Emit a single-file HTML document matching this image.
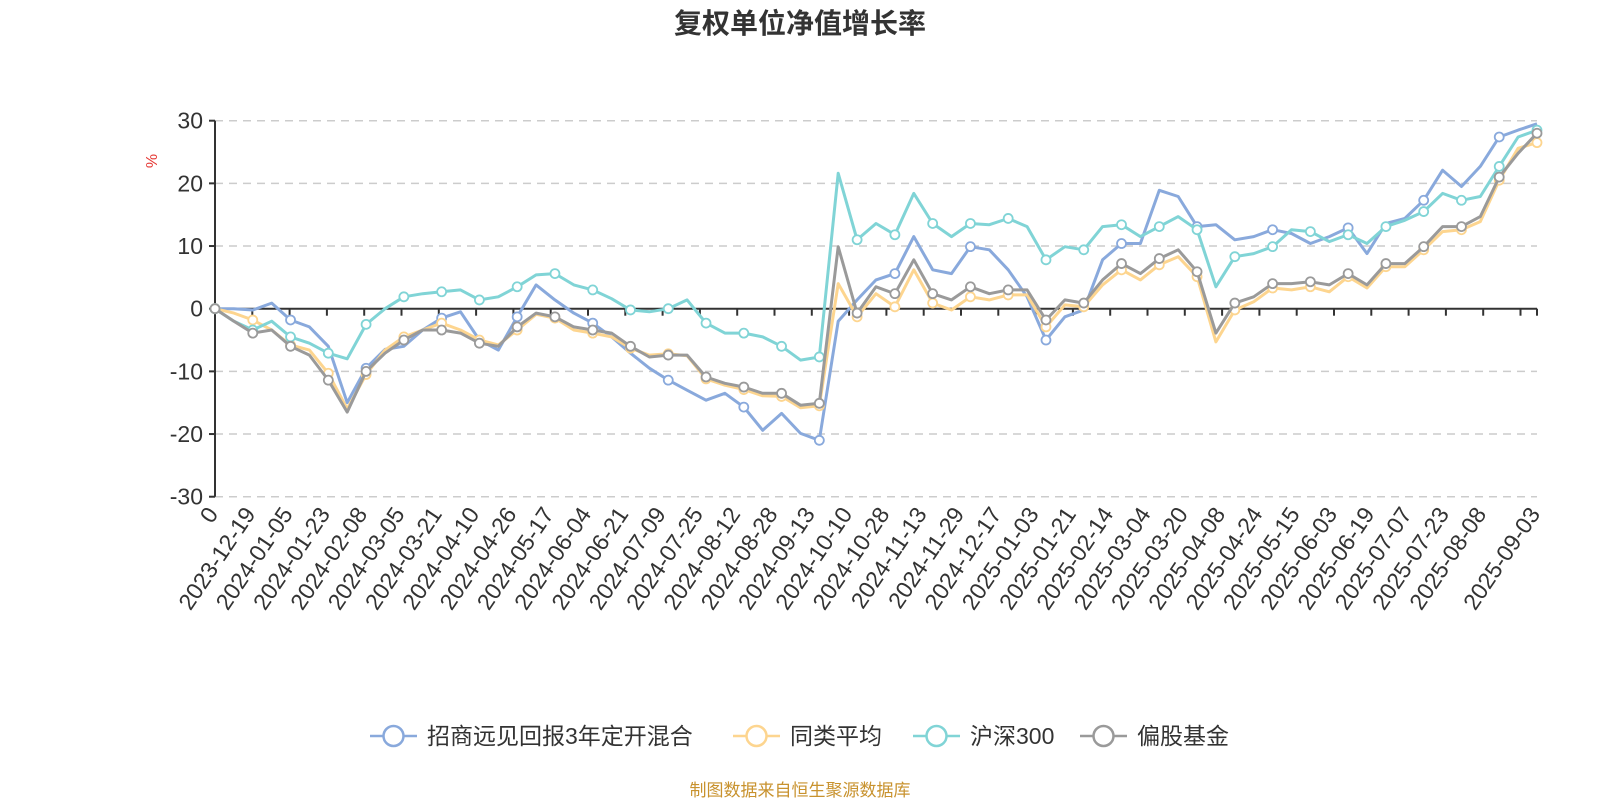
<!DOCTYPE html>
<html><head><meta charset="utf-8"><style>
html,body{margin:0;padding:0;background:#fff;}
svg{display:block;font-family:"Liberation Sans","Noto Sans CJK SC",sans-serif;}
</style></head><body>
<svg id="chart" width="1600" height="800" viewBox="0 0 1600 800">
<text x="800" y="33" text-anchor="middle" font-size="28" font-weight="bold" fill="#333" font-family="Liberation Sans, Noto Sans CJK SC, sans-serif">复权单位净值增长率</text>
<text x="0" y="0" transform="translate(157,161) rotate(-90)" text-anchor="middle" font-size="16" fill="#e53935">%</text>
<g id="grid"></g>
<g id="yaxis"></g>
<g id="xaxis"></g>
<g id="series"></g>
<g id="legend"></g>
<text x="800" y="796" text-anchor="middle" font-size="17" fill="#c8922e" font-family="Liberation Sans, Noto Sans CJK SC, sans-serif">制图数据来自恒生聚源数据库</text>
</svg>
<script>
const yTicks = [30, 20, 10, 0, -10, -20, -30];
const xLabels = ["0","2023-12-19","2024-01-05","2024-01-23","2024-02-08","2024-03-05","2024-03-21","2024-04-10","2024-04-26","2024-05-17","2024-06-04","2024-06-21","2024-07-09","2024-07-25","2024-08-12","2024-08-28","2024-09-13","2024-10-10","2024-10-28","2024-11-13","2024-11-29","2024-12-17","2025-01-03","2025-01-21","2025-02-14","2025-03-04","2025-03-20","2025-04-08","2025-04-24","2025-05-15","2025-06-03","2025-06-19","2025-07-07","2025-07-23","2025-08-08","2025-09-03"];
const seriesNames = ["招商远见回报3年定开混合","同类平均","沪深300","偏股基金"];
const fundValues = [0,0,-0.2,0.9,-1.8,-2.9,-6,-15,-9.5,-6.5,-6, -3.4,-1.5,-0.5,-5,-6.6,-1.3,3.8,1.4,-0.7,-2.3, -4.5,-7.1,-9.5,-11.4,-13,-14.6,-13.5,-15.7,-19.4,-16.7, -19.9,-21,-2,1.4,4.6,5.6,11.5,6.2,5.6,9.9, 9.4,6.2,1.9,-5,-1.3,-0.2,7.8,10.4,10.4,18.9, 17.9,13.1,13.4,11,11.5,12.6,12,10.4,11.5,12.9, 8.8,13.6,14.4,17.3,22.1,19.5,22.7,27.4,28.5,29.5];
const peerAvgValues = [0,-0.7,-1.8,-3.4,-5.8,-6.6,-10.3,-16,-10.5,-6.6,-4.5, -3.4,-2.3,-3.4,-5,-5.8,-3.4,-0.9,-1.5,-3.4,-3.9, -4.5,-6.3,-7.4,-7.2,-7.5,-11.2,-12.2,-12.9,-13.9,-14, -15.8,-15.5,4,-1.3,2.4,0.3,6.2,0.9,-0.2,1.9, 1.4,2.2,2.2,-2.9,0.6,0.3,3.8,6.2,4.6,7, 8.3,5.1,-5.3,-0.2,1.1,3.3,3,3.5,2.7,5.1, 3.3,6.7,6.7,9.4,12.3,12.6,13.9,20.5,25.6,26.5];
const hs300Values = [0,-2,-3.4,-2,-4.5,-5.5,-7.1,-8,-2.5,0,1.9, 2.4,2.7,3,1.4,1.9,3.5,5.4,5.6,3.8,3, 1.6,-0.2,-0.5,0,1.4,-2.3,-3.9,-3.9,-4.5,-6, -8.2,-7.7,21.6,11,13.6,11.8,18.4,13.6,11.5,13.6, 13.4,14.4,13.1,7.8,9.9,9.4,13.1,13.4,11.5,13.1, 14.7,12.6,3.5,8.3,8.8,9.9,12.6,12.3,10.7,11.8, 10.4,13.1,14.1,15.5,18.4,17.3,17.9,22.7,27.4,28.5];
const equityFundValues = [0,-2,-3.9,-3.4,-6,-7.4,-11.4,-16.5,-10,-7.1,-5, -3.4,-3.4,-3.9,-5.5,-6,-2.9,-0.7,-1.3,-2.9,-3.4, -3.9,-6,-7.7,-7.4,-7.4,-10.9,-11.9,-12.5,-13.5,-13.5, -15.4,-15.1,9.9,-0.7,3.5,2.4,7.8,2.4,1.4,3.5, 2.4,3,3,-1.8,1.4,0.9,4.6,7.2,5.6,8, 9.4,5.9,-3.9,0.9,1.9,4,4,4.3,3.8,5.6, 3.8,7.2,7.2,9.9,13.1,13.1,14.7,21,24.8,28];

const NS = "http://www.w3.org/2000/svg";
const L = 215, R = 1537, Y0 = 308.7, PX = 6.267;
const N = fundValues.length;
function xs(i){ return L + i * (R - L) / (N - 1); }
function ys(v){ return Y0 - v * PX; }
function mk(tag, attrs, parent){ const e = document.createElementNS(NS, tag); for (const k in attrs) e.setAttribute(k, attrs[k]); parent.appendChild(e); return e; }

const grid = document.getElementById('grid'), yax = document.getElementById('yaxis'), xax = document.getElementById('xaxis');
yTicks.forEach(t => {
  const y = ys(t);
  if (t !== 0) {
    const g = mk('line', {x1:L, x2:R, y1:y, y2:y, stroke:'#ccc', 'stroke-width':1.5, 'stroke-dasharray':'8,6'}, grid);
    
    
  }
  const tk = mk('line', {x1:L-6, x2:L, y1:y, y2:y, stroke:'#333', 'stroke-width':2}, yax);
  
  
  const lb = mk('text', {x:L-12, y:y+8, 'text-anchor':'end', 'font-size':23, fill:'#333'}, yax);
  lb.textContent = t;
  
  
});
const yl = mk('line', {x1:L, x2:L, y1:ys(30), y2:ys(-30), stroke:'#333', 'stroke-width':2}, yax);


const xl = mk('line', {x1:L, x2:R, y1:Y0, y2:Y0, stroke:'#333', 'stroke-width':2}, xax);



const step = 37.3;
xLabels.forEach((lab, k) => {
  const x = (k === xLabels.length - 1) ? R : L + k * step;
  const tk = mk('line', {x1:x, x2:x, y1:Y0, y2:Y0+7, stroke:'#333', 'stroke-width':2}, xax);
  
  
  const t = mk('text', {x:0, y:0, 'text-anchor':'end', 'font-size':23, fill:'#333', transform:`translate(${x+4},${514}) rotate(-56)`}, xax);
  t.textContent = lab;
  
  
});
const extraTick = mk('line', {x1:L+35*step, x2:L+35*step, y1:Y0, y2:Y0+7, stroke:'#333', 'stroke-width':2}, xax);



const colors = ['#89a9dc', '#fdd58f', '#80d4d6', '#9a9a9a'];
const allSeries = [fundValues, peerAvgValues, hs300Values, equityFundValues];
const symEvery = [4, 2, 2, 2];
const sg = document.getElementById('series');
allSeries.forEach((vals, s) => {
  const g = mk('g', {}, sg);
  
  
  const d = vals.map((v, i) => (i ? 'L' : 'M') + xs(i).toFixed(1) + ',' + ys(v).toFixed(1)).join(' ');
  const p = mk('path', {d:d, fill:'none', stroke:colors[s], 'stroke-width':3, 'stroke-linejoin':'round'}, g);
  
  
  vals.forEach((v, i) => {
    if (i % symEvery[s] !== 0) return;
    const c = mk('circle', {cx:xs(i), cy:ys(v), r:4.5, fill:'#fff', stroke:colors[s], 'stroke-width':1.8}, g);
    
    
  });
});

const lg = document.getElementById('legend');
const legendX = [370, 733, 913, 1080];
seriesNames.forEach((name, s) => {
  const x = legendX[s], y = 736;
  const item = mk('g', {}, lg);
  
  
  mk('line', {x1:x, x2:x+47, y1:y, y2:y, stroke:colors[s], 'stroke-width':2.5}, item);
  mk('circle', {cx:x+23.5, cy:y, r:10, fill:'#fff', stroke:colors[s], 'stroke-width':2.5}, item);
  const t = mk('text', {x:x+57, y:y+8, 'font-size':23, fill:'#333', 'font-family':'Liberation Sans, Noto Sans CJK SC, sans-serif'}, item);
  t.textContent = name;
});
</script>
</body></html>
